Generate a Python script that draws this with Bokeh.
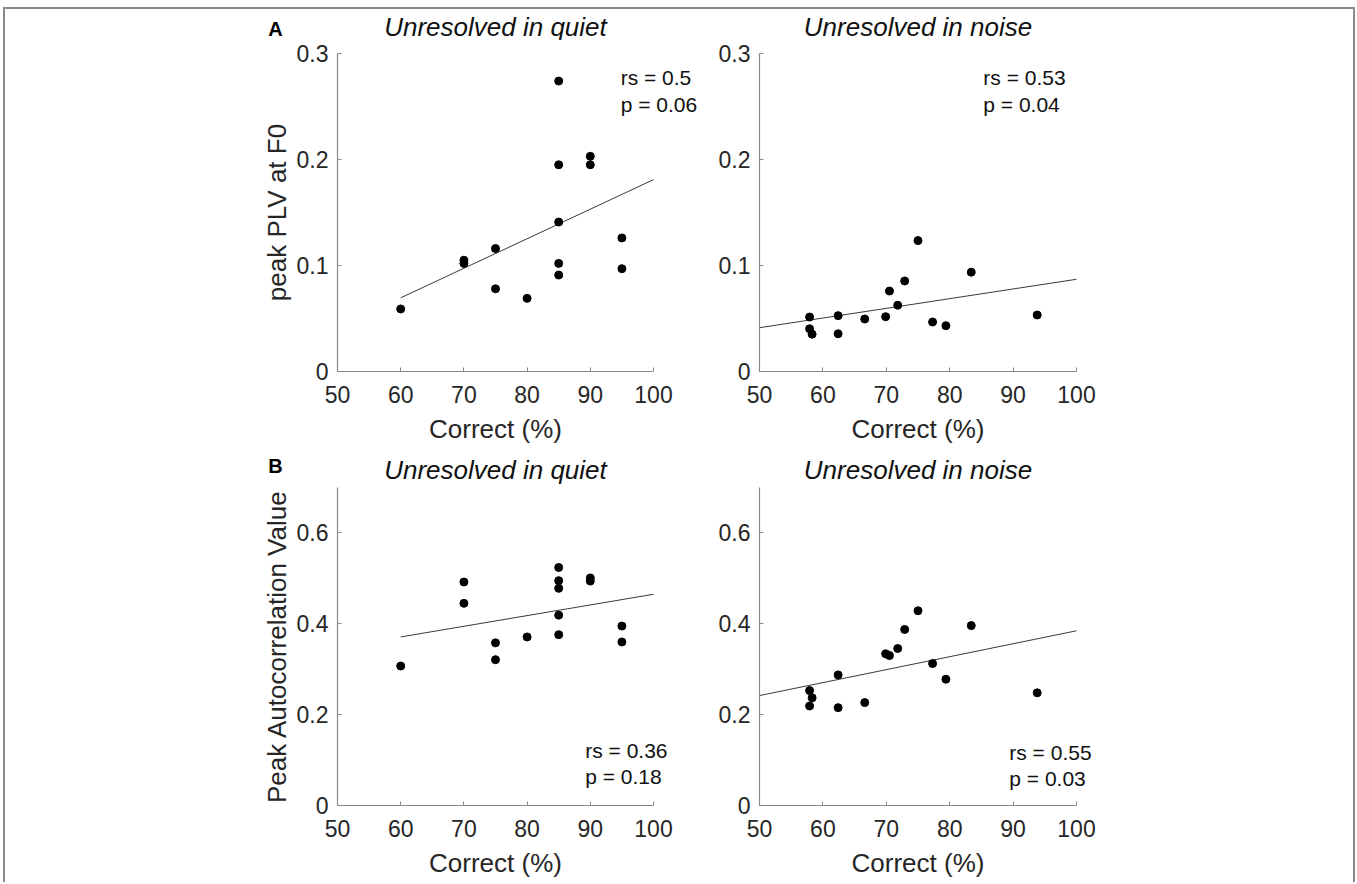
from bokeh.plotting import figure
from bokeh.models import Range1d, FixedTicker, NumeralTickFormatter, Label
from bokeh.layouts import row, column
from bokeh.embed import file_html
from bokeh.resources import INLINE

# ---------------- data ----------------
quiet_x = [60, 70, 70, 75, 75, 80, 85, 85, 85, 85, 85, 90, 90, 95, 95]
noise_x = [57.9, 57.9, 58.3, 62.4, 62.4, 66.6, 69.9, 70.5, 71.8, 72.9, 75.0, 77.3, 79.4, 83.4, 93.8]

plv_quiet = [0.059, 0.105, 0.102, 0.116, 0.078, 0.069, 0.274, 0.195, 0.141, 0.102, 0.091, 0.203, 0.195, 0.126, 0.097]
plv_noise = [0.0514, 0.0403, 0.0352, 0.0527, 0.0356, 0.0495, 0.0517, 0.0759, 0.0625, 0.0854, 0.1235, 0.0467, 0.0432, 0.0937, 0.0533]
ac_quiet = [0.307, 0.492, 0.445, 0.358, 0.321, 0.371, 0.524, 0.495, 0.478, 0.419, 0.376, 0.501, 0.494, 0.395, 0.360]
ac_noise = [0.253, 0.219, 0.237, 0.2875, 0.2154, 0.2265, 0.334, 0.330, 0.3456, 0.3875, 0.4287, 0.3125, 0.278, 0.396, 0.248]

fit_quiet_x = [60, 100]
fit_noise_x = [50, 100]
plv_quiet_fit = [0.0695, 0.181]
plv_noise_fit = [0.0413, 0.087]
ac_quiet_fit = [0.371, 0.465]
ac_noise_fit = [0.242, 0.3846]

stat_rs = ["0.5", "0.53", "0.36", "0.55"]
stat_p = ["0.06", "0.04", "0.18", "0.03"]

x_ticks = [50, 60, 70, 80, 90, 100]
plv_ticks = [0, 0.1, 0.2, 0.3]
ac_ticks = [0, 0.2, 0.4, 0.6]

titles = ["Unresolved in quiet", "Unresolved in noise"]
x_label = "Correct (%)"
plv_label = "peak PLV at F0"
ac_label = "Peak Autocorrelation Value"
panel_letters = ["A", "B"]

FONT = "Liberation Sans"
AXIS_COLOR = "#8a8a8a"
TEXT_COLOR = "#262626"

# ---------------- geometry (page pixels) ----------------
OX, OY = 5, 9                   # content origin inside the outer frame
X_MIN, X_MAX = 50, 100
L_FRAME = 337                   # page x of left panels' frame
R_COL = 700                     # page x where the right column starts
R_FRAME = 759                   # page x of right panels' frame
PXU_L = 316 / 50
PXU_R = 317 / 50
FW_L = R_COL - L_FRAME          # left frames run up to the right column
FW_R = round(PXU_R * 56)
X_EXT_L = X_MIN + FW_L / PXU_L
X_EXT_R = X_MIN + FW_R / PXU_R
CONTENT_W = 1353 - OX
L_W = R_COL - OX
R_W = CONTENT_W - L_W
L_CX = L_FRAME + PXU_L * (X_MAX - X_MIN) / 2
R_CX = R_FRAME + PXU_R * (X_MAX - X_MIN) / 2
FH = 318
HEAD1_H, TOP_PAD, BOT_BORDER, HEAD2_H, FOOT_H = 31, 13, 42, 74, 35

ROW1_TOP = OY + HEAD1_H
FRAME1_TOP = ROW1_TOP + TOP_PAD
FRAME1_BOT = FRAME1_TOP + FH
HEAD2_TOP = FRAME1_BOT + BOT_BORDER
FRAME2_TOP = HEAD2_TOP + HEAD2_H
FRAME2_BOT = FRAME2_TOP + FH
FOOT_TOP = FRAME2_BOT + BOT_BORDER


def make_panel(xs, ys, fx, fy, y_end, y_ticks, ylabel, rs, pv, sx, sy1, sy2,
               left_col, mbt):
    if left_col:
        fw, mbl, x_end = FW_L, L_FRAME - OX, X_EXT_L
        mbr = L_W - mbl - fw
    else:
        fw, mbl, x_end = FW_R, R_FRAME - R_COL, X_EXT_R
        mbr = R_W - mbl - fw
    p = figure(frame_width=fw, frame_height=FH,
               x_range=Range1d(X_MIN, x_end), y_range=Range1d(0, y_end),
               output_backend="svg", toolbar_location=None,
               min_border_left=mbl, min_border_right=mbr,
               min_border_top=mbt, min_border_bottom=BOT_BORDER,
               background_fill_color="white", border_fill_color="white")
    p.outline_line_color = None
    p.grid.visible = False

    for ax in (p.xaxis[0], p.yaxis[0]):
        ax.axis_line_color = AXIS_COLOR
        ax.axis_line_width = 1.2
        ax.major_tick_line_color = AXIS_COLOR
        ax.major_tick_in = 4
        ax.major_tick_out = 0
        ax.minor_tick_line_color = None
        ax.major_label_text_font = FONT
        ax.major_label_text_font_size = "23px"
        ax.major_label_text_color = TEXT_COLOR
        ax.axis_label_text_font = FONT
        ax.axis_label_text_font_size = "26px"
        ax.axis_label_text_font_style = "normal"
        ax.axis_label_text_color = TEXT_COLOR

    p.xaxis.ticker = FixedTicker(ticks=x_ticks)
    p.xaxis.bounds = (X_MIN, X_MAX)
    p.yaxis.ticker = FixedTicker(ticks=y_ticks)
    p.yaxis.formatter = NumeralTickFormatter(format="0.[0]")
    p.xaxis.major_label_standoff = 14
    p.yaxis.major_label_standoff = 9
    p.yaxis.axis_label_standoff = 2
    if ylabel:
        p.yaxis.axis_label = ylabel

    p.line(fx, fy, line_color="#3a3a3a", line_width=1)
    p.scatter(xs, ys, size=8, fill_color="black", line_color="black")

    for txt, yy in (("rs = " + rs, sy1), ("p = " + pv, sy2)):
        p.add_layout(Label(x=sx, y=yy, text=txt, text_font=FONT,
                           text_font_size="21px", text_baseline="middle",
                           text_color="#111111"))
    return p


def make_strip(top, h, items):
    """A borderless text strip; items are (page_x, page_y, text, size, style, color)."""
    p = figure(width=CONTENT_W, height=h, x_range=Range1d(0, CONTENT_W),
               y_range=Range1d(0, h), x_axis_type=None, y_axis_type=None,
               output_backend="svg", toolbar_location=None, min_border=0,
               background_fill_color="white", border_fill_color="white")
    p.outline_line_color = None
    p.grid.visible = False
    for px, py, txt, size, style, color in items:
        p.add_layout(Label(x=px - OX, y=top + h - py, text=txt, text_font=FONT,
                           text_font_size=size, text_font_style=style,
                           text_align="center", text_baseline="middle",
                           text_color=color))
    return p


LETTER_X = 275
head1 = make_strip(OY, HEAD1_H, [
    (LETTER_X, OY + 19, panel_letters[0], "20px", "bold", "black"),
    (L_CX, OY + 17, titles[0], "26px", "italic", "#111111"),
    (R_CX, OY + 17, titles[1], "26px", "italic", "#111111"),
])
head2 = make_strip(HEAD2_TOP, HEAD2_H, [
    (L_CX, FRAME1_BOT + 57, x_label, "26px", "normal", TEXT_COLOR),
    (R_CX, FRAME1_BOT + 57, x_label, "26px", "normal", TEXT_COLOR),
    (LETTER_X, FRAME2_TOP - 22, panel_letters[1], "20px", "bold", "black"),
    (L_CX, FRAME2_TOP - 18, titles[0], "26px", "italic", "#111111"),
    (R_CX, FRAME2_TOP - 18, titles[1], "26px", "italic", "#111111"),
])
foot = make_strip(FOOT_TOP, FOOT_H, [
    (L_CX, FRAME2_BOT + 57, x_label, "26px", "normal", TEXT_COLOR),
    (R_CX, FRAME2_BOT + 57, x_label, "26px", "normal", TEXT_COLOR),
])

p1 = make_panel(quiet_x, plv_quiet, fit_quiet_x, plv_quiet_fit, 0.3, plv_ticks,
                plv_label, stat_rs[0], stat_p[0], 94.8, 0.277, 0.2517, True, TOP_PAD)
p2 = make_panel(noise_x, plv_noise, fit_noise_x, plv_noise_fit, 0.3, plv_ticks,
                None, stat_rs[1], stat_p[1], 85.3, 0.277, 0.2517, False, TOP_PAD)
p3 = make_panel(quiet_x, ac_quiet, fit_quiet_x, ac_quiet_fit, 0.7, ac_ticks,
                ac_label, stat_rs[2], stat_p[2], 89.2, 0.121, 0.064, True, 0)
p4 = make_panel(noise_x, ac_noise, fit_noise_x, ac_noise_fit, 0.7, ac_ticks,
                None, stat_rs[3], stat_p[3], 89.4, 0.117, 0.060, False, 0)

root = column(head1, row(p1, p2), head2, row(p3, p4), foot,
              styles={"margin-top": "7px", "margin-left": "3px",
                      "border-top": "2px solid #8a8a8a",
                      "border-left": "2px solid #8a8a8a",
                      "border-right": "2px solid #8a8a8a",
                      "background-color": "white"})

open("out.html", "w").write(file_html(root, INLINE))
